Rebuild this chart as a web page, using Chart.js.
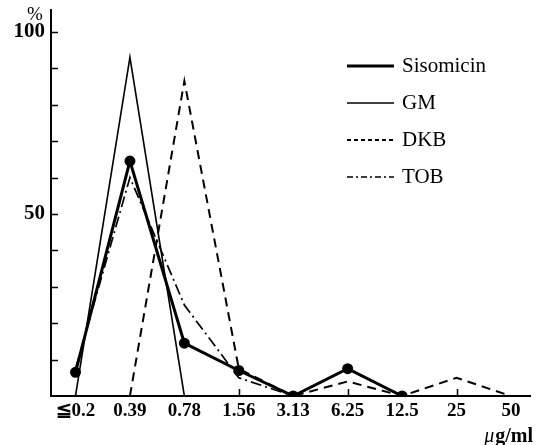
<!DOCTYPE html>
<html>
<head>
<meta charset="utf-8">
<script src="https://cdn.jsdelivr.net/npm/chart.js@4/dist/chart.umd.min.js"></script>
<style>
  html, body { margin: 0; background: #fff; }
  #wrap { width: 542px; height: 445px; }
</style>
</head>
<body>
<div id="wrap"><canvas id="chart"></canvas></div>
<script>
const doses = ["≦0.2", "0.39", "0.78", "1.56", "3.13", "6.25", "12.5", "25", "50"];
const sisomicin = [6.5, 64.5, 14.5, 7, 0, 7.5, 0, null, null];
const gm = [0, 93, 0, null, null, null, null, null, null];
const dkb = [null, 0, 86.5, 7.5, 0, 4, 0, 5, 0];
const tob = [7.5, 60, 25, 5, 0, null, null, null, null];
const yLabels = { 50: "50", 100: "100" };
const yMarks = [10, 20, 30, 40, 50, 60, 70, 80, 90, 100];
const xMarks = [3, 5, 7];

const SERIF = "'Liberation Serif', 'DejaVu Serif', serif";
const toPts = (arr) => arr.map((v, i) => v == null ? null : { x: i, y: v }).filter(Boolean);

const series = [
  { label: "Sisomicin", values: sisomicin, width: 3, dash: [], dot: 4 },
  { label: "GM", values: gm, width: 1.6, dash: [], dot: 0 },
  { label: "DKB", values: dkb, width: 2, dash: [9, 6], dot: 0 },
  { label: "TOB", values: tob, width: 1.7, dash: [11, 4, 2, 4], dot: 0 },
];

// inward tick marks, legend and axis captions
const decor = {
  id: "decor",
  afterDraw(chart) {
    const { ctx, chartArea: a, scales: { x, y } } = chart;
    ctx.save();
    ctx.strokeStyle = "#000";
    ctx.lineWidth = 1.5;
    ctx.beginPath();
    for (const v of yMarks) {
      const py = Math.round(y.getPixelForValue(v)) + 0.5;
      ctx.moveTo(a.left, py);
      ctx.lineTo(a.left + 7, py);
    }
    for (const v of xMarks) {
      const px = Math.round(x.getPixelForValue(v)) + 0.5;
      ctx.moveTo(px, a.bottom);
      ctx.lineTo(px, a.bottom - 7);
    }
    ctx.stroke();

    // legend
    ctx.fillStyle = "#000";
    ctx.font = "21px " + SERIF;
    ctx.textBaseline = "middle";
    series.forEach((s, i) => {
      const ly = 66 + i * 37;
      ctx.lineWidth = s.width;
      ctx.setLineDash(s.label === "DKB" ? [4, 3] : s.label === "TOB" ? [6, 3, 2, 3] : []);
      ctx.beginPath();
      ctx.moveTo(347, ly);
      ctx.lineTo(394, ly);
      ctx.stroke();
      ctx.setLineDash([]);
      ctx.fillText(s.label, 402, ly);
    });

    // captions
    ctx.font = "19px " + SERIF;
    ctx.textAlign = "center";
    ctx.fillText("%", 35, 15);
    ctx.textAlign = "right";
    ctx.textBaseline = "alphabetic";
    ctx.font = "bold 20px " + SERIF;
    ctx.fillText("g/ml", 533, 442);
    const w = ctx.measureText("g/ml").width;
    ctx.font = "italic 20px " + SERIF;
    ctx.fillText("μ", 533 - w - 1, 442);
    ctx.restore();
  },
};

new Chart(document.getElementById("chart"), {
  type: "line",
  data: {
    datasets: series.map(s => ({
      label: s.label,
      data: toPts(s.values),
      borderColor: "#000",
      backgroundColor: "#000",
      borderWidth: s.width,
      borderDash: s.dash,
      pointRadius: s.dot,
      pointHoverRadius: s.dot,
      tension: 0,
      fill: false,
    })),
  },
  options: {
    responsive: true,
    maintainAspectRatio: false,
    animation: false,
    layout: { padding: { left: 0, right: 12, top: 10, bottom: 0 } },
    plugins: { legend: { display: false }, tooltip: { enabled: false } },
    scales: {
      x: {
        type: "linear",
        min: -0.45,
        max: 8.35,
        afterFit: (s) => { s.height = 49; s.paddingLeft = 0; s.paddingRight = 0; },
        afterBuildTicks: (s) => { s.ticks = doses.map((_, i) => ({ value: i })); },
        ticks: {
          callback: (v) => doses[v] ?? "",
          color: "#000",
          font: { family: SERIF, size: 19, weight: "bold" },
          padding: 4,
          maxRotation: 0,
          autoSkip: false,
        },
        grid: { display: false, drawTicks: false },
        border: { color: "#000", width: 2 },
      },
      y: {
        min: 0,
        max: 106,
        afterFit: (s) => { s.width = 51; s.paddingTop = 0; s.paddingBottom = 0; },
        afterBuildTicks: (s) => { s.ticks = [{ value: 50 }, { value: 100 }]; },
        ticks: {
          callback: (v) => yLabels[v] ?? "",
          color: "#000",
          font: { family: SERIF, size: 21, weight: "bold" },
          padding: 6,
        },
        grid: { display: false, drawTicks: false },
        border: { color: "#000", width: 2 },
      },
    },
  },
  plugins: [decor],
});
</script>
</body>
</html>
